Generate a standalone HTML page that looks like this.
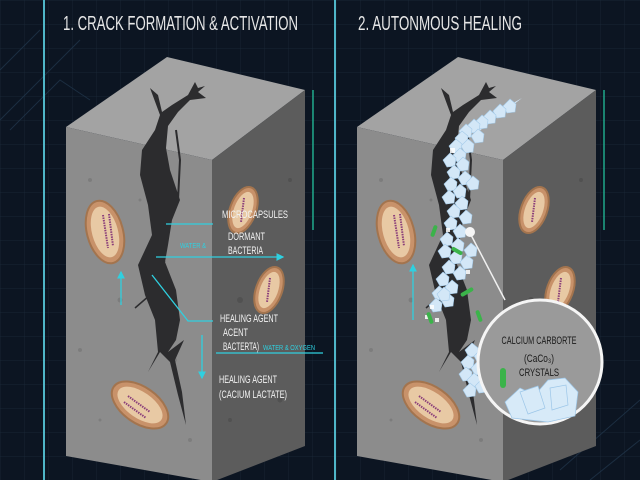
<!DOCTYPE html>
<html><head><meta charset="utf-8"><style>
html,body{margin:0;padding:0;background:#0c1522;}
svg{display:block}
text{font-family:"Liberation Sans",sans-serif;}
</style></head><body>
<svg width="640" height="480" viewBox="0 0 640 480" xmlns="http://www.w3.org/2000/svg">
<defs>
<pattern id="grid" width="24" height="24" patternUnits="userSpaceOnUse">
<path d="M24 0H0V24" fill="none" stroke="#1a2a3a" stroke-width="0.7"/>
</pattern>
<marker id="ar" markerWidth="6" markerHeight="6" refX="5" refY="3" orient="auto"><path d="M0,0L6,3L0,6z" fill="#2fd0e0"/></marker>
<polygon id="cr" points="0,-7 6,-2 5,6 -3,7 -7,0" fill="#d3e7f7" stroke="#a5cbe9" stroke-width="0.6"/>
<g id="block">
<polygon points="66,127 167,57 305,90 212,160" fill="#a3a3a3"/>
<polygon points="66,127 212,160 212,482 66,456" fill="#8c8c8c"/>
<polygon points="212,160 305,90 305,446 212,482" fill="#5c5c5c"/>
<g fill="#6e6e6e" opacity="0.5">
<circle cx="90" cy="180" r="2"/><circle cx="120" cy="300" r="2.5"/><circle cx="80" cy="350" r="2"/><circle cx="190" cy="440" r="2"/><circle cx="100" cy="420" r="1.5"/><circle cx="140" cy="200" r="1.5"/><circle cx="175" cy="360" r="2"/><circle cx="95" cy="250" r="1.5"/>
</g>
<g fill="#4a4a4a" opacity="0.6">
<circle cx="240" cy="300" r="3"/><circle cx="280" cy="400" r="2.5"/><circle cx="230" cy="420" r="2"/><circle cx="290" cy="180" r="2"/>
</g>
<path d="M150,88 L158,95 L162,112 L172,105 L188,95 L195,82 L198,88 L205,86 L198,92 L206,98 L190,100 L178,112 L168,126 L166,148 L170,170 L180,200 L172,220 L168,245 L165,262 L176,290 L180,320 L176,340 L168,352 L184,340 L175,360 L182,392 L186,425 L178,395 L170,362 L160,352 L148,372 L158,352 L155,320 L145,295 L138,265 L152,235 L148,205 L140,175 L142,150 L155,130 L160,115 Z" fill="#2c2c2e"/>
<path d="M176,130 L180,160 L178,200" stroke="#2c2c2e" stroke-width="2" fill="none"/>
<path d="M150,295 L135,308 M165,262 L152,252" stroke="#2c2c2e" stroke-width="1.5" fill="none"/>
<g fill="#c8926a" stroke="#a3744e" stroke-width="2">
<ellipse cx="105" cy="232" rx="18" ry="32" transform="rotate(-15 105 232)"/>
<ellipse cx="140" cy="405" rx="32" ry="18" transform="rotate(35 140 405)"/>
<ellipse cx="243" cy="210" rx="13" ry="24" transform="rotate(20 243 210)"/>
<ellipse cx="269" cy="290" rx="13" ry="24" transform="rotate(20 269 290)"/>
</g>
<g fill="#e8c9a4">
<ellipse cx="105" cy="232" rx="13" ry="26" transform="rotate(-15 105 232)"/>
<ellipse cx="140" cy="405" rx="26" ry="13" transform="rotate(35 140 405)"/>
<ellipse cx="243" cy="210" rx="9" ry="19" transform="rotate(20 243 210)"/>
<ellipse cx="269" cy="290" rx="9" ry="19" transform="rotate(20 269 290)"/>
</g>
<g stroke="#8a3e7a" stroke-width="2" stroke-dasharray="1.5 1">
<line x1="103" y1="215" x2="108" y2="248"/><line x1="109" y1="214" x2="113" y2="246"/>
<line x1="128" y1="396" x2="150" y2="412"/><line x1="124" y1="402" x2="146" y2="418"/>
<line x1="244" y1="198" x2="241" y2="222"/><line x1="270" y1="278" x2="267" y2="302"/>
</g>
<line x1="313" y1="90" x2="313" y2="230" stroke="#1fa88a" stroke-width="1.5"/>
</g>
</defs>
<rect width="640" height="480" fill="#0c1522"/>
<rect width="640" height="480" fill="url(#grid)"/>
<g stroke="#20344a" stroke-width="1" fill="none" opacity="0.8">
<path d="M0,120 L80,40 M10,130 L60,80 L90,100 M0,70 L40,30"/>
<path d="M560,470 L640,400 M590,480 L640,440"/>
</g>
<line x1="44" y1="0" x2="44" y2="480" stroke="#4fb6c8" stroke-width="2"/>
<line x1="335" y1="0" x2="335" y2="480" stroke="#4fb6c8" stroke-width="2"/>
<text x="63" y="30" fill="#e6e6e6" font-size="20" textLength="235" lengthAdjust="spacingAndGlyphs">1. CRACK FORMATION &amp; ACTIVATION</text>
<text x="358" y="30" fill="#e6e6e6" font-size="20" textLength="164" lengthAdjust="spacingAndGlyphs">2. AUTONMOUS HEALING</text>

<use href="#block"/>
<use href="#block" x="291"/>

<g stroke="#2fd0e0" stroke-width="1.3" fill="none">
<line x1="166" y1="224" x2="213" y2="224"/>
<line x1="156" y1="257" x2="283" y2="257" marker-end="url(#ar)"/>
<polyline points="152,275 188,321 213,321"/>
<line x1="216" y1="353" x2="323" y2="353"/>
<line x1="202" y1="335" x2="202" y2="378" marker-end="url(#ar)"/>
<line x1="121" y1="305" x2="121" y2="272" marker-end="url(#ar)"/>
</g>
<g fill="#f2f2f2" font-size="11">
<text x="222" y="218" textLength="66" lengthAdjust="spacingAndGlyphs">MICROCAPSULES</text>
<text x="228" y="240" textLength="37" lengthAdjust="spacingAndGlyphs">DORMANT</text>
<text x="228" y="254" textLength="35" lengthAdjust="spacingAndGlyphs">BACTERIA</text>
<text x="220" y="322" textLength="58" lengthAdjust="spacingAndGlyphs">HEALING AGENT</text>
<text x="223" y="336" textLength="25" lengthAdjust="spacingAndGlyphs">ACENT</text>
<text x="223" y="350" textLength="36" lengthAdjust="spacingAndGlyphs">BACTERTA)</text>
<text x="219" y="383" textLength="58" lengthAdjust="spacingAndGlyphs">HEALING AGENT</text>
<text x="219" y="398" textLength="68" lengthAdjust="spacingAndGlyphs">(CACIUM LACTATE)</text>
</g>
<g fill="#2fd0e0" font-size="7.5">
<text x="180" y="248" textLength="26" lengthAdjust="spacingAndGlyphs">WATER &amp;</text>
<text x="263" y="350" textLength="52" lengthAdjust="spacingAndGlyphs">WATER &amp; OXYGEN</text>
</g>

<g>
<polygon points="470,125 515,102 522,98 478,132" fill="#d3e7f7"/>
<use href="#cr" x="510" y="106"/><use href="#cr" x="500" y="111"/><use href="#cr" x="490" y="117"/><use href="#cr" x="482" y="122"/>
<use href="#cr" x="474" y="126"/><use href="#cr" x="466" y="131"/><use href="#cr" x="478" y="136"/><use href="#cr" x="462" y="138"/>
<use href="#cr" x="456" y="146"/><use href="#cr" x="468" y="146"/><use href="#cr" x="460" y="155"/><use href="#cr" x="450" y="160"/>
<use href="#cr" x="463" y="164"/><use href="#cr" x="454" y="172"/><use href="#cr" x="465" y="178"/><use href="#cr" x="451" y="184"/>
<use href="#cr" x="460" y="191"/><use href="#cr" x="449" y="197"/><use href="#cr" x="462" y="203"/><use href="#cr" x="454" y="211"/>
<use href="#cr" x="466" y="217"/><use href="#cr" x="451" y="223"/><use href="#cr" x="460" y="231"/><use href="#cr" x="447" y="239"/>
<use href="#cr" x="458" y="245"/><use href="#cr" x="445" y="251"/><use href="#cr" x="456" y="257"/><use href="#cr" x="467" y="262"/>
<use href="#cr" x="449" y="267"/><use href="#cr" x="460" y="273"/><use href="#cr" x="443" y="279"/><use href="#cr" x="452" y="287"/>
<use href="#cr" x="439" y="293"/><use href="#cr" x="448" y="300"/><use href="#cr" x="436" y="305"/><use href="#cr" x="444" y="294"/>
<use href="#cr" x="473" y="183"/><use href="#cr" x="471" y="250"/>
<use href="#cr" x="472" y="350"/><use href="#cr" x="481" y="356"/><use href="#cr" x="468" y="362"/><use href="#cr" x="478" y="368"/>
<use href="#cr" x="466" y="374"/><use href="#cr" x="474" y="380"/><use href="#cr" x="482" y="386"/><use href="#cr" x="470" y="390"/>
</g>
<g fill="#ffffff" opacity="0.85">
<rect x="450" y="148" width="5" height="5"/><rect x="446" y="228" width="4" height="4"/><rect x="466" y="270" width="4" height="4"/><rect x="425" y="315" width="4" height="4"/><rect x="430" y="305" width="4" height="4"/><rect x="435" y="318" width="4" height="4"/>
</g>
<g fill="#3bb34a">
<rect x="432" y="225" width="4" height="12" rx="2" transform="rotate(20 434 231)"/>
<rect x="465" y="285" width="4" height="14" rx="2" transform="rotate(60 467 292)"/>
<rect x="428" y="312" width="4" height="12" rx="2" transform="rotate(-20 430 318)"/>
<rect x="477" y="310" width="4" height="12" rx="2" transform="rotate(-20 479 316)"/>
<rect x="455" y="245" width="4" height="12" rx="2" transform="rotate(-60 457 251)"/>
</g>
<g stroke="#2fd0e0" stroke-width="1.3" fill="none">
<line x1="413" y1="320" x2="413" y2="265" marker-end="url(#ar)"/>
</g>
<line x1="470" y1="233" x2="505" y2="300" stroke="#f0f0f0" stroke-width="1.5"/>
<circle cx="470" cy="232" r="5" fill="#f5f5f5"/>
<circle cx="540" cy="362" r="62" fill="#9a9a9a" stroke="#f5f5f5" stroke-width="3"/>
<g fill="#d7eaf8" stroke="#9cc6e8" stroke-width="0.7">
<polygon points="505,402 520,388 535,395 548,380 565,378 578,392 575,416 548,422 512,418"/>
<polygon points="520,392 538,386 545,408 528,414"/>
<polygon points="550,388 566,385 568,405 552,410"/>
</g>
<rect x="500" y="368" width="6" height="20" rx="3" fill="#3bb34a"/>
<g fill="#1a1a1a" font-size="11" text-anchor="middle">
<text x="539" y="344" textLength="75" lengthAdjust="spacingAndGlyphs">CALCIUM CARBORTE</text>
<text x="539" y="362" textLength="30" lengthAdjust="spacingAndGlyphs">(CaCo₃)</text>
<text x="539" y="376" textLength="40" lengthAdjust="spacingAndGlyphs">CRYSTALS</text>
</g>
</svg>
</body></html>
